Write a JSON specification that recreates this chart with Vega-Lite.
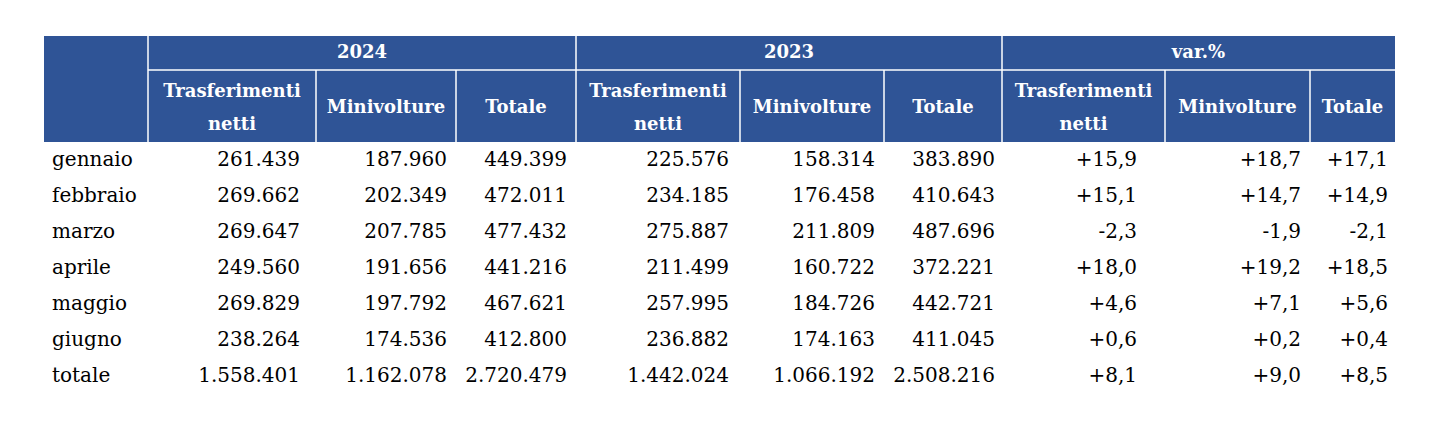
{
  "$schema": "https://vega.github.io/schema/vega-lite/v6.json",
  "width": 1442,
  "height": 440,
  "padding": 0,
  "autosize": "none",
  "background": "white",
  "config": {"view": {"stroke": null}, "text": {"font": "DejaVu Serif"}},
  "datasets": {
    "mesi": [
      {"mese": "gennaio", "r": 3, "t24": "261.439", "m24": "187.960", "tot24": "449.399", "t23": "225.576", "m23": "158.314", "tot23": "383.890", "tv": "+15,9", "mv": "+18,7", "totv": "+17,1"},
      {"mese": "febbraio", "r": 4, "t24": "269.662", "m24": "202.349", "tot24": "472.011", "t23": "234.185", "m23": "176.458", "tot23": "410.643", "tv": "+15,1", "mv": "+14,7", "totv": "+14,9"},
      {"mese": "marzo", "r": 5, "t24": "269.647", "m24": "207.785", "tot24": "477.432", "t23": "275.887", "m23": "211.809", "tot23": "487.696", "tv": "-2,3", "mv": "-1,9", "totv": "-2,1"},
      {"mese": "aprile", "r": 6, "t24": "249.560", "m24": "191.656", "tot24": "441.216", "t23": "211.499", "m23": "160.722", "tot23": "372.221", "tv": "+18,0", "mv": "+19,2", "totv": "+18,5"},
      {"mese": "maggio", "r": 7, "t24": "269.829", "m24": "197.792", "tot24": "467.621", "t23": "257.995", "m23": "184.726", "tot23": "442.721", "tv": "+4,6", "mv": "+7,1", "totv": "+5,6"},
      {"mese": "giugno", "r": 8, "t24": "238.264", "m24": "174.536", "tot24": "412.800", "t23": "236.882", "m23": "174.163", "tot23": "411.045", "tv": "+0,6", "mv": "+0,2", "totv": "+0,4"},
      {"mese": "totale", "r": 9, "t24": "1.558.401", "m24": "1.162.078", "tot24": "2.720.479", "t23": "1.442.024", "m23": "1.066.192", "tot23": "2.508.216", "tv": "+8,1", "mv": "+9,0", "totv": "+8,5"}
    ],
    "griglia": [
      {"x": 1, "x2": 1, "y": 0, "y2": 2},
      {"x": 4, "x2": 4, "y": 0, "y2": 2},
      {"x": 7, "x2": 7, "y": 0, "y2": 2},
      {"x": 2, "x2": 2, "y": 1, "y2": 2},
      {"x": 3, "x2": 3, "y": 1, "y2": 2},
      {"x": 5, "x2": 5, "y": 1, "y2": 2},
      {"x": 6, "x2": 6, "y": 1, "y2": 2},
      {"x": 8, "x2": 8, "y": 1, "y2": 2},
      {"x": 9, "x2": 9, "y": 1, "y2": 2},
      {"x": 1, "x2": 10, "y": 1, "y2": 1}
    ],
    "sotto1": [
      {"t": "Trasferimenti", "c": 1.5},
      {"t": "Trasferimenti", "c": 4.5},
      {"t": "Trasferimenti", "c": 7.5}
    ],
    "sotto2": [
      {"t": "netti", "c": 1.5},
      {"t": "netti", "c": 4.5},
      {"t": "netti", "c": 7.5}
    ],
    "sotto3": [
      {"t": "Minivolture", "c": 2.5},
      {"t": "Totale", "c": 3.5},
      {"t": "Minivolture", "c": 5.5},
      {"t": "Totale", "c": 6.5},
      {"t": "Minivolture", "c": 8.5},
      {"t": "Totale", "c": 9.5}
    ],
    "anni": [
      {"t": "2024", "g": 0.5},
      {"t": "2023", "g": 1.5},
      {"t": "var.%", "g": 2.5}
    ],
    "testata": [{"x0": 0, "x1": 10, "y0": 0, "y1": 2}]
  },
  "resolve": {"scale": {"x": "independent"}},
  "layer": [
    {
      "layer": [
        {
          "data": {"name": "testata"},
          "mark": {"type": "rect", "color": "#2F5496"},
          "encoding": {
            "x": {"field": "x0", "type": "quantitative", "axis": null, "scale": {"domain": [0,1,2,3,4,5,6,7,8,9,10], "range": [44,148,316,456,576,740,884,1002,1165,1310,1395], "nice": false, "zero": false}},
            "x2": {"field": "x1"},
            "y": {"field": "y0", "type": "quantitative", "axis": null, "scale": {"domain": [0,1,2,3,9], "range": [36,70,142,160,376], "nice": false, "zero": false}},
            "y2": {"field": "y1"}
          }
        },
        {
          "data": {"name": "griglia"},
          "mark": {"type": "rule", "color": "#ffffff", "strokeWidth": 1.5},
          "encoding": {
            "x": {"field": "x", "type": "quantitative", "axis": null, "scale": {"domain": [0,1,2,3,4,5,6,7,8,9,10], "range": [44,148,316,456,576,740,884,1002,1165,1310,1395], "nice": false, "zero": false}},
            "x2": {"field": "x2"},
            "y": {"field": "y", "type": "quantitative", "axis": null, "scale": {"domain": [0,1,2,3,9], "range": [36,70,142,160,376], "nice": false, "zero": false}},
            "y2": {"field": "y2"}
          }
        },
        {
          "data": {"name": "sotto1"},
          "mark": {"type": "text", "color": "#ffffff", "fontSize": 18, "fontWeight": "bold", "align": "center", "baseline": "middle"},
          "encoding": {
            "x": {"field": "c", "type": "quantitative", "axis": null, "scale": {"domain": [0,1,2,3,4,5,6,7,8,9,10], "range": [44,148,316,456,576,740,884,1002,1165,1310,1395], "nice": false, "zero": false}},
            "y": {"datum": 1.31, "type": "quantitative", "axis": null, "scale": {"domain": [0,1,2,3,9], "range": [36,70,142,160,376], "nice": false, "zero": false}},
            "text": {"field": "t"}
          }
        },
        {
          "data": {"name": "sotto2"},
          "mark": {"type": "text", "color": "#ffffff", "fontSize": 18, "fontWeight": "bold", "align": "center", "baseline": "middle"},
          "encoding": {
            "x": {"field": "c", "type": "quantitative", "axis": null, "scale": {"domain": [0,1,2,3,4,5,6,7,8,9,10], "range": [44,148,316,456,576,740,884,1002,1165,1310,1395], "nice": false, "zero": false}},
            "y": {"datum": 1.76, "type": "quantitative", "axis": null, "scale": {"domain": [0,1,2,3,9], "range": [36,70,142,160,376], "nice": false, "zero": false}},
            "text": {"field": "t"}
          }
        },
        {
          "data": {"name": "sotto3"},
          "mark": {"type": "text", "color": "#ffffff", "fontSize": 18, "fontWeight": "bold", "align": "center", "baseline": "middle"},
          "encoding": {
            "x": {"field": "c", "type": "quantitative", "axis": null, "scale": {"domain": [0,1,2,3,4,5,6,7,8,9,10], "range": [44,148,316,456,576,740,884,1002,1165,1310,1395], "nice": false, "zero": false}},
            "y": {"datum": 1.53, "type": "quantitative", "axis": null, "scale": {"domain": [0,1,2,3,9], "range": [36,70,142,160,376], "nice": false, "zero": false}},
            "text": {"field": "t"}
          }
        },
        {
          "data": {"name": "mesi"},
          "mark": {"type": "text", "color": "#000000", "fontSize": 20, "align": "left", "baseline": "middle", "dx": 8},
          "encoding": {
            "x": {"datum": 0, "type": "quantitative", "axis": null, "scale": {"domain": [0,1,2,3,4,5,6,7,8,9,10], "range": [44,148,316,456,576,740,884,1002,1165,1310,1395], "nice": false, "zero": false}},
            "y": {"field": "r", "type": "quantitative", "axis": null, "scale": {"domain": [0,1,2,3,9], "range": [36,70,142,160,376], "nice": false, "zero": false}},
            "text": {"field": "mese"}
          }
        },
        {
          "data": {"name": "mesi"},
          "mark": {"type": "text", "color": "#000000", "fontSize": 20, "align": "right", "baseline": "middle", "dx": -16},
          "encoding": {
            "x": {"datum": 2, "type": "quantitative", "axis": null, "scale": {"domain": [0,1,2,3,4,5,6,7,8,9,10], "range": [44,148,316,456,576,740,884,1002,1165,1310,1395], "nice": false, "zero": false}},
            "y": {"field": "r", "type": "quantitative", "axis": null, "scale": {"domain": [0,1,2,3,9], "range": [36,70,142,160,376], "nice": false, "zero": false}},
            "text": {"field": "t24"}
          }
        },
        {
          "data": {"name": "mesi"},
          "mark": {"type": "text", "color": "#000000", "fontSize": 20, "align": "right", "baseline": "middle", "dx": -9},
          "encoding": {
            "x": {"datum": 3, "type": "quantitative", "axis": null, "scale": {"domain": [0,1,2,3,4,5,6,7,8,9,10], "range": [44,148,316,456,576,740,884,1002,1165,1310,1395], "nice": false, "zero": false}},
            "y": {"field": "r", "type": "quantitative", "axis": null, "scale": {"domain": [0,1,2,3,9], "range": [36,70,142,160,376], "nice": false, "zero": false}},
            "text": {"field": "m24"}
          }
        },
        {
          "data": {"name": "mesi"},
          "mark": {"type": "text", "color": "#000000", "fontSize": 20, "align": "right", "baseline": "middle", "dx": -9},
          "encoding": {
            "x": {"datum": 4, "type": "quantitative", "axis": null, "scale": {"domain": [0,1,2,3,4,5,6,7,8,9,10], "range": [44,148,316,456,576,740,884,1002,1165,1310,1395], "nice": false, "zero": false}},
            "y": {"field": "r", "type": "quantitative", "axis": null, "scale": {"domain": [0,1,2,3,9], "range": [36,70,142,160,376], "nice": false, "zero": false}},
            "text": {"field": "tot24"}
          }
        },
        {
          "data": {"name": "mesi"},
          "mark": {"type": "text", "color": "#000000", "fontSize": 20, "align": "right", "baseline": "middle", "dx": -11},
          "encoding": {
            "x": {"datum": 5, "type": "quantitative", "axis": null, "scale": {"domain": [0,1,2,3,4,5,6,7,8,9,10], "range": [44,148,316,456,576,740,884,1002,1165,1310,1395], "nice": false, "zero": false}},
            "y": {"field": "r", "type": "quantitative", "axis": null, "scale": {"domain": [0,1,2,3,9], "range": [36,70,142,160,376], "nice": false, "zero": false}},
            "text": {"field": "t23"}
          }
        },
        {
          "data": {"name": "mesi"},
          "mark": {"type": "text", "color": "#000000", "fontSize": 20, "align": "right", "baseline": "middle", "dx": -9},
          "encoding": {
            "x": {"datum": 6, "type": "quantitative", "axis": null, "scale": {"domain": [0,1,2,3,4,5,6,7,8,9,10], "range": [44,148,316,456,576,740,884,1002,1165,1310,1395], "nice": false, "zero": false}},
            "y": {"field": "r", "type": "quantitative", "axis": null, "scale": {"domain": [0,1,2,3,9], "range": [36,70,142,160,376], "nice": false, "zero": false}},
            "text": {"field": "m23"}
          }
        },
        {
          "data": {"name": "mesi"},
          "mark": {"type": "text", "color": "#000000", "fontSize": 20, "align": "right", "baseline": "middle", "dx": -7},
          "encoding": {
            "x": {"datum": 7, "type": "quantitative", "axis": null, "scale": {"domain": [0,1,2,3,4,5,6,7,8,9,10], "range": [44,148,316,456,576,740,884,1002,1165,1310,1395], "nice": false, "zero": false}},
            "y": {"field": "r", "type": "quantitative", "axis": null, "scale": {"domain": [0,1,2,3,9], "range": [36,70,142,160,376], "nice": false, "zero": false}},
            "text": {"field": "tot23"}
          }
        },
        {
          "data": {"name": "mesi"},
          "mark": {"type": "text", "color": "#000000", "fontSize": 20, "align": "right", "baseline": "middle", "dx": -28},
          "encoding": {
            "x": {"datum": 8, "type": "quantitative", "axis": null, "scale": {"domain": [0,1,2,3,4,5,6,7,8,9,10], "range": [44,148,316,456,576,740,884,1002,1165,1310,1395], "nice": false, "zero": false}},
            "y": {"field": "r", "type": "quantitative", "axis": null, "scale": {"domain": [0,1,2,3,9], "range": [36,70,142,160,376], "nice": false, "zero": false}},
            "text": {"field": "tv"}
          }
        },
        {
          "data": {"name": "mesi"},
          "mark": {"type": "text", "color": "#000000", "fontSize": 20, "align": "right", "baseline": "middle", "dx": -9},
          "encoding": {
            "x": {"datum": 9, "type": "quantitative", "axis": null, "scale": {"domain": [0,1,2,3,4,5,6,7,8,9,10], "range": [44,148,316,456,576,740,884,1002,1165,1310,1395], "nice": false, "zero": false}},
            "y": {"field": "r", "type": "quantitative", "axis": null, "scale": {"domain": [0,1,2,3,9], "range": [36,70,142,160,376], "nice": false, "zero": false}},
            "text": {"field": "mv"}
          }
        },
        {
          "data": {"name": "mesi"},
          "mark": {"type": "text", "color": "#000000", "fontSize": 20, "align": "right", "baseline": "middle", "dx": -7},
          "encoding": {
            "x": {"datum": 10, "type": "quantitative", "axis": null, "scale": {"domain": [0,1,2,3,4,5,6,7,8,9,10], "range": [44,148,316,456,576,740,884,1002,1165,1310,1395], "nice": false, "zero": false}},
            "y": {"field": "r", "type": "quantitative", "axis": null, "scale": {"domain": [0,1,2,3,9], "range": [36,70,142,160,376], "nice": false, "zero": false}},
            "text": {"field": "totv"}
          }
        }
      ]
    },
    {
      "data": {"name": "anni"},
      "mark": {"type": "text", "color": "#ffffff", "fontSize": 18, "fontWeight": "bold", "align": "center", "baseline": "middle"},
      "encoding": {
        "x": {"field": "g", "type": "quantitative", "axis": null, "scale": {"domain": [0,1,2,3], "range": [148,576,1002,1395], "nice": false, "zero": false}},
        "y": {"datum": 0.5, "type": "quantitative", "axis": null, "scale": {"domain": [0,1,2,3,9], "range": [36,70,142,160,376], "nice": false, "zero": false}},
        "text": {"field": "t"}
      }
    }
  ]
}
